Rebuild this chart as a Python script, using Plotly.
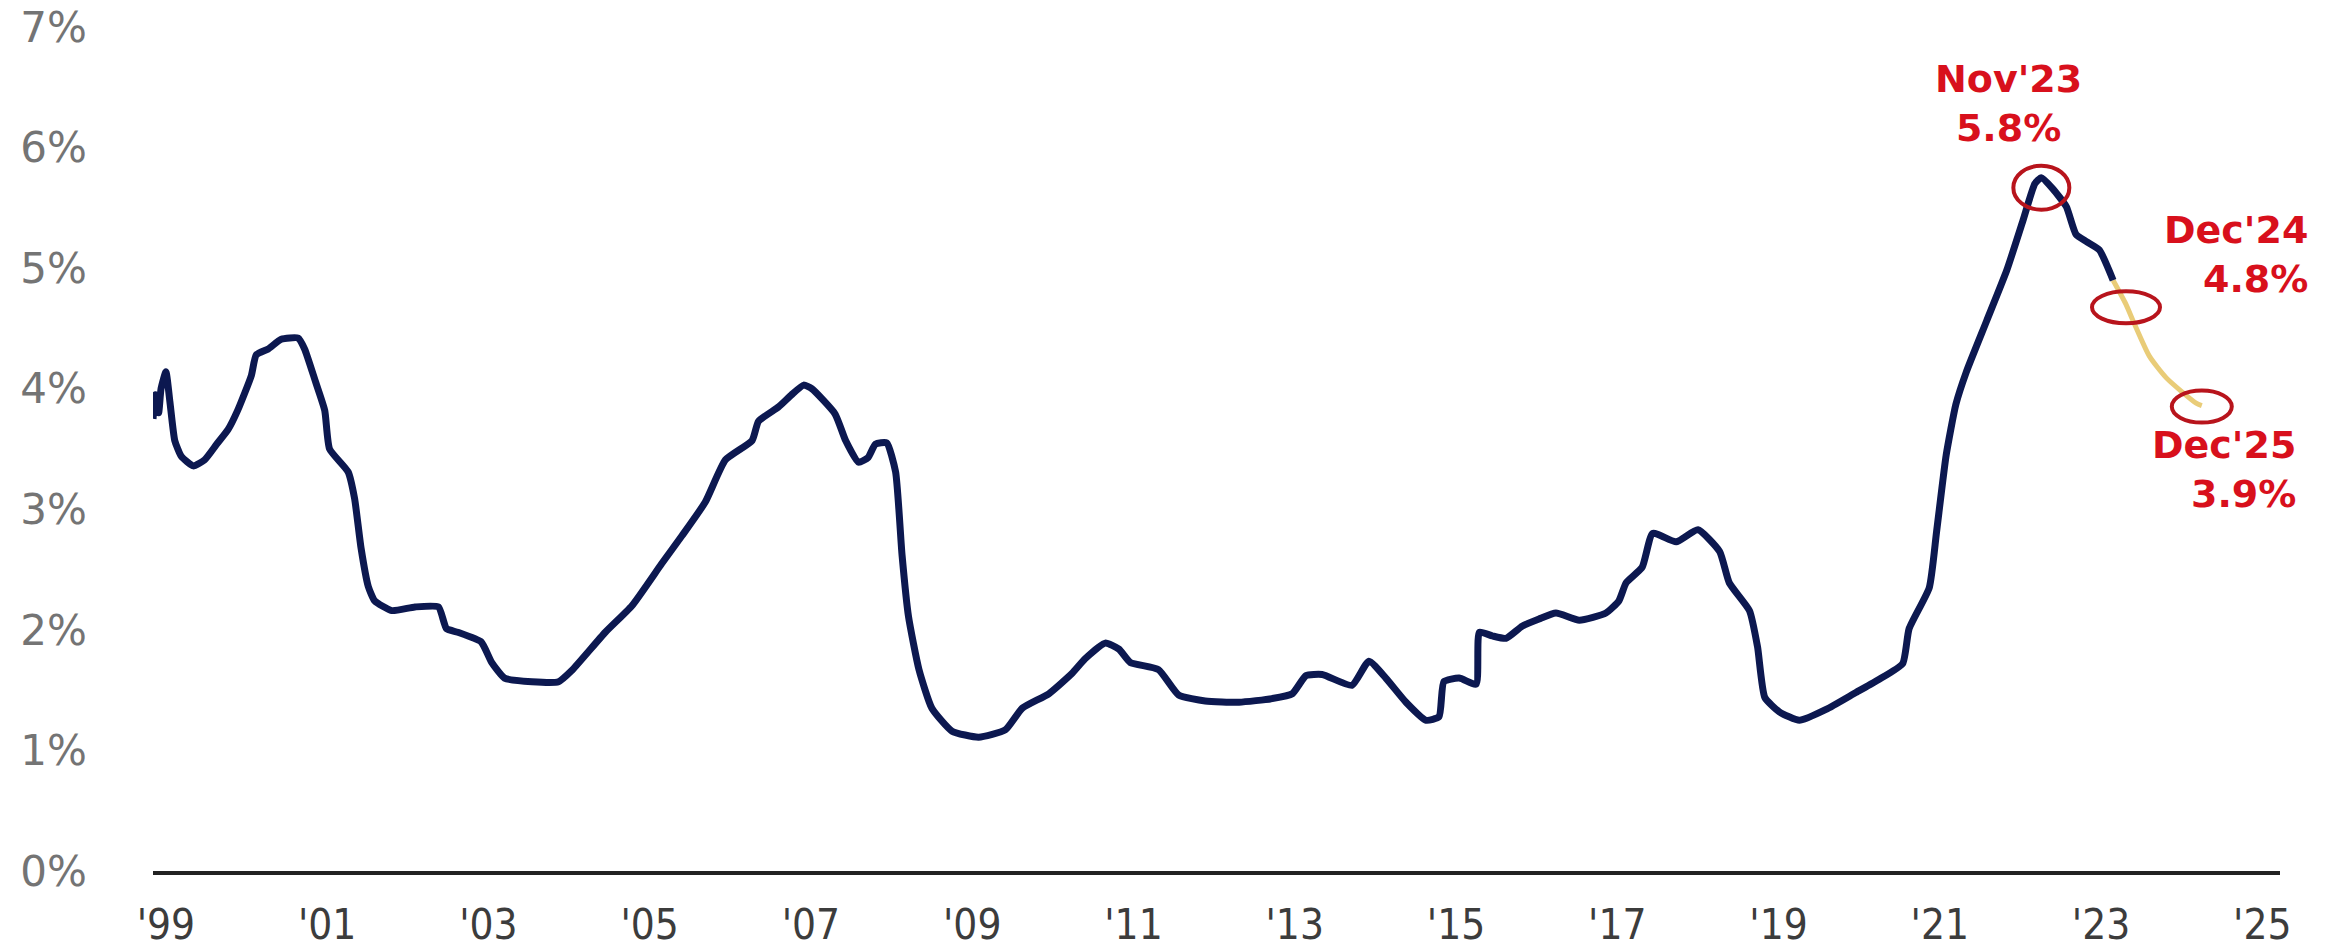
import plotly.graph_objects as go

# Actual series (decimal year as read against the axis labels, value in %)
years = [1998.84, 1998.87, 1998.91, 1998.94, 1999.00, 1999.05, 1999.11, 1999.19, 1999.34, 1999.48,
         1999.63, 1999.77, 1999.89, 2000.06, 2000.12, 2000.27, 2000.43, 2000.64, 2000.72, 2000.85,
         2000.97, 2001.03, 2001.26, 2001.34, 2001.42, 2001.51, 2001.59, 2001.80, 2002.09, 2002.38,
         2002.48, 2002.62, 2002.91, 2003.04, 2003.20, 2003.54, 2003.87, 2004.03, 2004.45, 2004.78,
         2005.15, 2005.40, 2005.69, 2005.94, 2006.27, 2006.35, 2006.60, 2006.76, 2006.91, 2007.01,
         2007.30, 2007.43, 2007.59, 2007.71, 2007.80, 2007.94, 2008.05, 2008.13, 2008.21, 2008.34,
         2008.50, 2008.75, 2009.08, 2009.41, 2009.62, 2009.95, 2010.24, 2010.40, 2010.65, 2010.82,
         2010.96, 2011.31, 2011.56, 2011.89, 2012.31, 2012.72, 2012.97, 2013.14, 2013.34, 2013.71,
         2013.92, 2014.13, 2014.38, 2014.63, 2014.79, 2014.85, 2015.04, 2015.25, 2015.29, 2015.45,
         2015.62, 2015.82, 2016.03, 2016.24, 2016.53, 2016.86, 2017.02, 2017.11, 2017.31, 2017.44,
         2017.73, 2018.00, 2018.27, 2018.39, 2018.64, 2018.74, 2018.83, 2019.01, 2019.26, 2019.59,
         2019.96, 2020.25, 2020.54, 2020.62, 2020.87, 2020.96, 2021.08, 2021.20, 2021.33, 2021.58,
         2021.83, 2022.03, 2022.18, 2022.26, 2022.40, 2022.57, 2022.69, 2022.82, 2022.98, 2023.15]
values = [3.75, 3.95, 3.80, 4.00, 4.14, 3.89, 3.57, 3.44, 3.36, 3.41,
          3.54, 3.66, 3.82, 4.11, 4.28, 4.33, 4.41, 4.42, 4.33, 4.07,
          3.82, 3.50, 3.31, 3.09, 2.68, 2.36, 2.24, 2.16, 2.19, 2.19,
          2.01, 1.98, 1.90, 1.73, 1.60, 1.57, 1.57, 1.66, 1.98, 2.20,
          2.55, 2.78, 3.06, 3.41, 3.57, 3.73, 3.85, 3.95, 4.03, 4.00,
          3.79, 3.57, 3.39, 3.43, 3.54, 3.55, 3.31, 2.62, 2.11, 1.67,
          1.35, 1.16, 1.11, 1.17, 1.35, 1.47, 1.64, 1.76, 1.89, 1.84,
          1.73, 1.67, 1.46, 1.41, 1.40, 1.43, 1.47, 1.62, 1.63, 1.54,
          1.74, 1.60, 1.40, 1.25, 1.28, 1.57, 1.60, 1.55, 1.98, 1.95,
          1.93, 2.03, 2.09, 2.14, 2.08, 2.14, 2.24, 2.39, 2.52, 2.80,
          2.73, 2.83, 2.65, 2.39, 2.16, 1.86, 1.44, 1.32, 1.25, 1.34,
          1.48, 1.59, 1.72, 2.01, 2.35, 2.81, 3.45, 3.87, 4.14, 4.56,
          4.98, 5.39, 5.70, 5.75, 5.66, 5.51, 5.28, 5.22, 5.15, 4.90]

# Projection
fc_years = [2023.15, 2023.31, 2023.40, 2023.60, 2023.81, 2024.18, 2024.25]
fc_values = [4.90, 4.70, 4.56, 4.27, 4.09, 3.88, 3.86]

# Axis ticks
x_tickvals = list(range(1999, 2026, 2))
x_ticktext = ["'99", "'01", "'03", "'05", "'07", "'09", "'11", "'13", "'15", "'17", "'19", "'21", "'23", "'25"]
y_tickvals = [0, 1, 2, 3, 4, 5, 6, 7]
y_ticktext = ["0%", "1%", "2%", "3%", "4%", "5%", "6%", "7%"]

# Callouts
peak_label = "<b>Nov'23<br>5.8%</b>"
dec24_label = "<b>Dec'24<br>4.8%</b>"
dec25_label = "<b>Dec'25<br>3.9%</b>"

RED = "#d8101c"
CIRCLE = "#b8141c"

fig = go.Figure()
fig.add_trace(go.Scatter(x=fc_years, y=fc_values, mode="lines",
                         line=dict(color="#e9cc78", width=5, shape="spline", smoothing=0.6),
                         hoverinfo="skip"))
fig.add_trace(go.Scatter(x=years, y=values, mode="lines",
                         line=dict(color="#0c1850", width=7, shape="spline", smoothing=0.5),
                         hoverinfo="skip"))

pk = values.index(max(values))
marks = [
    (years[pk], values[pk], 28, 22, -10),
    (fc_years[1], fc_values[1], 34, 16, -3),
    (fc_years[-1], fc_values[-1], 30, 16, -1),
]
for (mx, my, rx, ry, dy) in marks:
    fig.add_shape(type="circle", xref="x", yref="y", xsizemode="pixel", ysizemode="pixel",
                  xanchor=mx, yanchor=my, x0=-rx, x1=rx, y0=-ry + dy, y1=ry + dy,
                  line=dict(color=CIRCLE, width=4))

font_ann = dict(family="DejaVu Sans, Verdana, sans-serif", size=38, color=RED)
fig.add_annotation(x=years[pk], y=values[pk], text=peak_label, showarrow=False,
                   xanchor="center", yanchor="middle", align="center",
                   xshift=-33, yshift=74, font=font_ann)
fig.add_annotation(x=fc_years[1], y=fc_values[1], text=dec24_label, showarrow=False,
                   xanchor="right", yanchor="middle", align="right",
                   xshift=184, yshift=50, font=font_ann)
fig.add_annotation(x=fc_years[-1], y=fc_values[-1], text=dec25_label, showarrow=False,
                   xanchor="right", yanchor="middle", align="right",
                   xshift=96, yshift=-64, font=font_ann)

fig.update_layout(
    width=2331, height=949,
    margin=dict(l=153, r=51, t=27, b=78),
    paper_bgcolor="white", plot_bgcolor="white",
    showlegend=False,
)
fig.update_xaxes(range=[1998.84, 2025.22], tickvals=x_tickvals, ticktext=x_ticktext,
                 showgrid=False, zeroline=False, showline=True, linecolor="#222222", linewidth=4,
                 ticks="", ticklabelstandoff=14, automargin=False, ticklabeloverflow="allow",
                 tickfont=dict(family="Liberation Sans Narrow, DejaVu Sans Condensed, sans-serif",
                               size=42, color="#3c3c3c"))
fig.update_yaxes(range=[0, 7], tickvals=y_tickvals, ticktext=y_ticktext,
                 showgrid=False, zeroline=False, showline=False, ticks="",
                 ticklabelstandoff=65, automargin=False, ticklabeloverflow="allow",
                 tickfont=dict(family="DejaVu Sans, sans-serif", size=42, color="#747474"))

# remove the default 8px page margin so the figure fills the window exactly
fig.write_html("out.html", config={"displayModeBar": False},
               post_script="document.body.style.margin='0';document.body.style.overflow='hidden';")
